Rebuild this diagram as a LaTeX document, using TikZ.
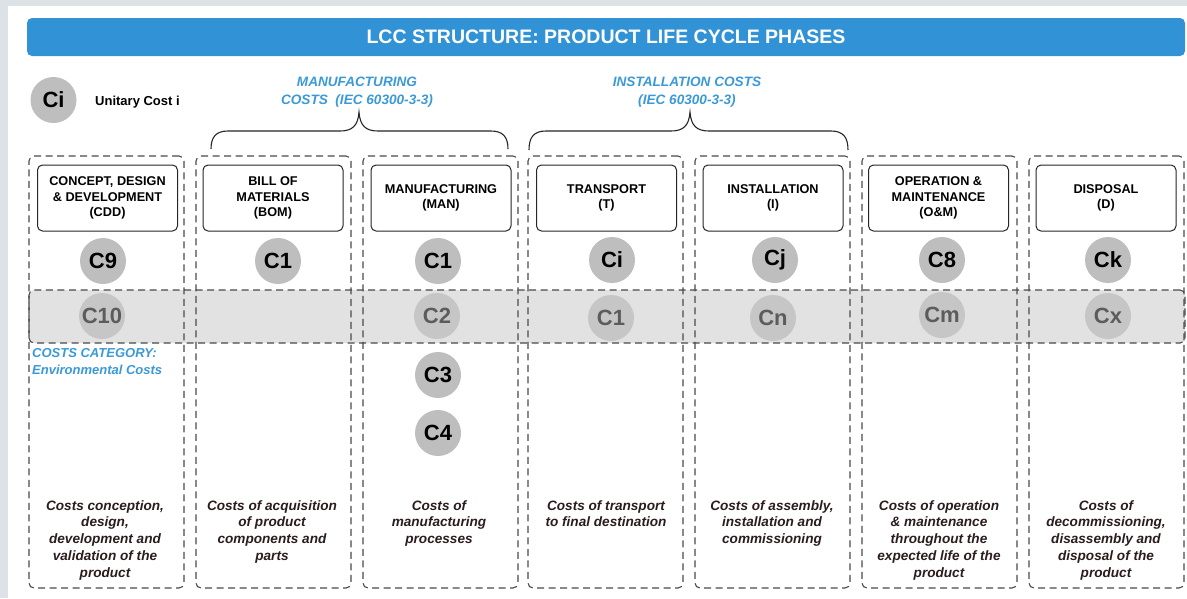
\documentclass[tikz,border=0pt]{standalone}
\usepackage{fontspec}
\setmainfont{Liberation Sans}
\definecolor{bgray}{HTML}{DDE2E6}
\definecolor{titleblue}{HTML}{3193D5}
\definecolor{labelblue}{HTML}{3A9AD8}
\definecolor{cfill}{HTML}{BEBEBE}
\definecolor{cfillb}{HTML}{C6C6C6}
\definecolor{bandfill}{HTML}{E2E2E2}
\definecolor{dashcol}{HTML}{4A4A4A}
\definecolor{desccol}{HTML}{2B1D1D}
\definecolor{fadetext}{HTML}{5C5C5C}
\begin{document}
\begin{tikzpicture}[x=1pt,y=-1pt,
  titlebar/.style={fill=titleblue, rounded corners=5pt, minimum width=1158pt, minimum height=38pt, inner sep=0, text=white, font=\bfseries\fontsize{19.5}{20}\selectfont},
  colbox/.style={draw=dashcol, line width=1.1pt, dash pattern=on 7pt off 4.5pt, rounded corners=5pt, minimum width=155pt, minimum height=432pt, inner sep=0},
  bandbox/.style={draw=dashcol, fill=bandfill, line width=1.1pt, dash pattern=on 7pt off 4.5pt, rounded corners=5pt, minimum width=1156pt, minimum height=53pt, inner sep=0},
  hdr/.style={draw=black!85, line width=1pt, rounded corners=5pt, fill=white, align=center, minimum width=140pt, minimum height=66pt, inner sep=2pt, font=\bfseries\fontsize{12.7}{15.7}\selectfont},
  cost/.style={circle, fill=cfill, minimum size=46pt, inner sep=0, font=\bfseries\fontsize{22}{22}\selectfont},
  costb/.style={cost, fill=cfillb, text=fadetext},
  desc/.style={align=center, anchor=north, inner sep=0, text=desccol, font=\bfseries\itshape\fontsize{13.6}{16.8}\selectfont},
  bluelab/.style={align=center, text=labelblue, inner sep=0, font=\bfseries\itshape\fontsize{13.6}{17.5}\selectfont},
  bracestyle/.style={draw=black!85, line width=1.1pt}
]
\fill[bgray] (0,0) rectangle (1187,598);
\fill[white] (8,6) rectangle (1187,598);
\useasboundingbox (0,0) rectangle (1187,598);

% title
\node[titlebar] (title) at (606,37) {LCC STRUCTURE: PRODUCT LIFE CYCLE PHASES};

% legend
\node[cost] (leg) at (53.5,100) {Ci};
\node[anchor=west, inner sep=0, font=\bfseries\fontsize{13}{15}\selectfont] (legtxt) at (95,102) {Unitary Cost i};

% group labels
\node[bluelab] (manlab) at (357,92) {MANUFACTURING\\COSTS~~(IEC 60300-3-3)};
\node[bluelab] (inslab) at (687,92) {INSTALLATION COSTS\\(IEC 60300-3-3)};

% braces
\draw[bracestyle] (211,149) .. controls (211,137) and (216,131) .. (228,131) -- (340,131)
  .. controls (352,131) and (358,126) .. (359,112)
  .. controls (360,126) and (366,131) .. (378,131) -- (491,131)
  .. controls (503,131) and (508,137) .. (508,149);
\draw[bracestyle] (529,150) .. controls (529,137) and (534,131) .. (546,131) -- (671,131)
  .. controls (683,131) and (689,126) .. (690,112)
  .. controls (691,126) and (697,131) .. (709,131) -- (831,131)
  .. controls (843,131) and (848,137) .. (848,150);

% band (environmental costs)
\node[bandbox] (band) at (607,316.5) {};

% second-row costs
\node[costb] (c10) at (102,316) {C10};
\node[costb] (c2) at (437,316) {C2};
\node[costb] (c1t) at (611,318) {C1};
\node[costb] (cn) at (773,318) {Cn};
\node[costb] (cm) at (942,315) {Cm};
\node[costb] (cx) at (1108,316) {Cx};

% columns
\node[colbox] (col1) at (106.5,372) {};
\node[colbox] (col2) at (273.5,372) {};
\node[colbox] (col3) at (440.5,372) {};
\node[colbox] (col4) at (605.5,372) {};
\node[colbox] (col5) at (772.5,372) {};
\node[colbox] (col6) at (939.5,372) {};
\node[colbox] (col7) at (1106.5,372) {};

% headers
\node[hdr] (h1) at (107.5,198) {CONCEPT, DESIGN\\\& DEVELOPMENT\\(CDD)};
\node[hdr] (h2) at (273,198) {BILL OF\\MATERIALS\\(BOM)};
\node[hdr] (h3) at (441,198) {MANUFACTURING\\(MAN)};
\node[hdr] (h4) at (606.5,198) {TRANSPORT\\(T)};
\node[hdr] (h5) at (773,198) {INSTALLATION\\(I)};
\node[hdr] (h6) at (938.5,198) {OPERATION \&\\MAINTENANCE\\(O\&M)};
\node[hdr] (h7) at (1106,198) {DISPOSAL\\(D)};

% first-row costs
\node[cost] (c9) at (103,261) {C9};
\node[cost] (c1b) at (278,261) {C1};
\node[cost] (c1m) at (438,261) {C1};
\node[cost] (ci) at (612,260) {Ci};
\node[cost] (cj) at (775,260) {Cj};
\node[cost] (c8) at (942,260) {C8};
\node[cost] (ck) at (1108,260) {Ck};
\node[cost] (c3) at (438,375) {C3};
\node[cost] (c4) at (438,433) {C4};

% cost category
\node[anchor=north west, align=left, text=labelblue, inner sep=0, font=\bfseries\itshape\fontsize{13}{17}\selectfont] (cat) at (32,348) {COSTS CATEGORY:\\Environmental Costs};

% descriptions
\node[desc] (d1) at (105,500) {Costs conception,\\design,\\development and\\validation of the\\product};
\node[desc] (d2) at (272,500) {Costs of acquisition\\of product\\components and\\parts};
\node[desc] (d3) at (439,500) {Costs of\\manufacturing\\processes};
\node[desc] (d4) at (606,500) {Costs of transport\\to final destination};
\node[desc] (d5) at (772,500) {Costs of assembly,\\installation and\\commissioning};
\node[desc] (d6) at (939,500) {Costs of operation\\\& maintenance\\throughout the\\expected life of the\\product};
\node[desc] (d7) at (1106,500) {Costs of\\decommissioning,\\disassembly and\\disposal of the\\product};
\end{tikzpicture}
\end{document}
